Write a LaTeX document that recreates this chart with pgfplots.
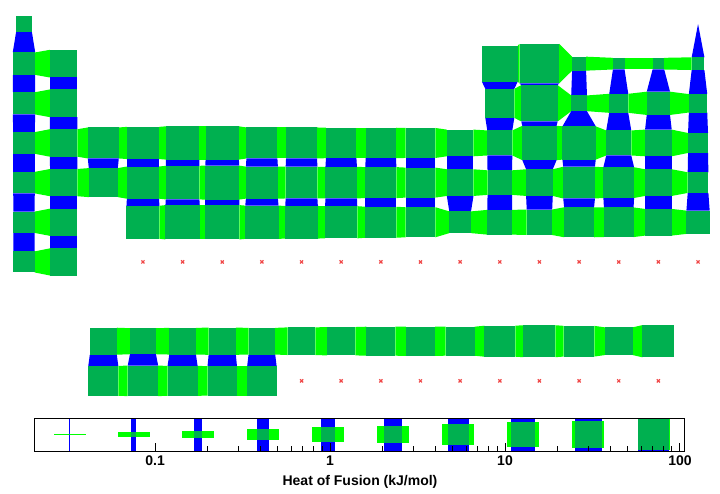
\documentclass[border=0pt]{standalone}
\usepackage{fontspec}
\setmainfont{Liberation Sans}
\usepackage{pgfplots}
\pgfplotsset{compat=1.18}

\definecolor{cellgreen}{RGB}{0,176,80}
\definecolor{rowlime}{RGB}{0,255,0}
\definecolor{colblue}{RGB}{0,0,255}
\definecolor{nodata}{RGB}{240,72,72}

% heat of fusion (kJ/mol): \hf{column}{row}{value}
% square side in cell units grows with log10 of the value
\newcommand\hf[3]{%
  \pgfmathsetmacro\tmp{max(0,0.2787*(log10(#3)+1.55))}%
  \expandafter\xdef\csname sz@#1@#2\endcsname{\tmp}}

% row 1
\hf{1}{1}{0.75} \hf{18}{1}{0.0282}
% row 2
\hf{1}{2}{3.05} \hf{2}{2}{9} \hf{13}{2}{50} \hf{14}{2}{108}
\hf{15}{2}{0.52} \hf{16}{2}{0.32} \hf{17}{2}{0.32} \hf{18}{2}{0.4}
% row 3
\hf{1}{3}{2.9} \hf{2}{3}{9} \hf{13}{3}{11.9} \hf{14}{3}{55}
\hf{15}{3}{0.75} \hf{16}{3}{1.48} \hf{17}{3}{3.6} \hf{18}{3}{1.3}
% row 4
\hf{1}{4}{2.6} \hf{2}{4}{8.7} \hf{3}{4}{18} \hf{4}{4}{23} \hf{5}{4}{29} \hf{6}{4}{29}
\hf{7}{4}{18} \hf{8}{4}{18} \hf{9}{4}{16} \hf{10}{4}{16} \hf{11}{4}{14.6} \hf{12}{4}{7.3}
\hf{13}{4}{5.2} \hf{14}{4}{36} \hf{15}{4}{29} \hf{16}{4}{5.2} \hf{17}{4}{7.3} \hf{18}{4}{1.8}
% row 5
\hf{1}{5}{2.5} \hf{2}{5}{8.2} \hf{3}{5}{11.9} \hf{4}{5}{23} \hf{5}{5}{31} \hf{6}{5}{33.6}
\hf{7}{5}{22} \hf{8}{5}{21} \hf{9}{5}{20} \hf{10}{5}{18} \hf{11}{5}{14.6} \hf{12}{5}{7.3}
\hf{13}{5}{4.7} \hf{14}{5}{7.3} \hf{15}{5}{21} \hf{16}{5}{17} \hf{17}{5}{7.3} \hf{18}{5}{2.1}
% row 6
\hf{1}{6}{2.4} \hf{2}{6}{8.2} \hf{4}{6}{27} \hf{5}{6}{36} \hf{6}{6}{36}
\hf{7}{6}{29} \hf{8}{6}{25} \hf{9}{6}{23} \hf{10}{6}{18} \hf{11}{6}{14.6} \hf{12}{6}{2.6}
\hf{13}{6}{4.9} \hf{14}{6}{5.7} \hf{15}{6}{14.6} \hf{16}{6}{13.6} \hf{17}{6}{7.3} \hf{18}{6}{3.6}
% row 7
\hf{1}{7}{2.25} \hf{2}{7}{8.2}
% lanthanides
\hf{3}{9}{7.8} \hf{4}{9}{6.4} \hf{5}{9}{7.3} \hf{6}{9}{8.2} \hf{7}{9}{7.3} \hf{8}{9}{9}
\hf{9}{9}{10.4} \hf{10}{9}{11.9} \hf{11}{9}{12.7} \hf{12}{9}{11.9} \hf{13}{9}{18}
\hf{14}{9}{22} \hf{15}{9}{17} \hf{16}{9}{9} \hf{17}{9}{23}
% actinides
\hf{3}{10}{14.6} \hf{4}{10}{16} \hf{5}{10}{14.6} \hf{6}{10}{13} \hf{7}{10}{13}

\pgfplotsset{
  hconn/.style={fill=rowlime, draw=none, forget plot},
  vconn/.style={fill=colblue, draw=none, forget plot},
  cellsq/.style={fill=cellgreen, draw=none, forget plot},
}

\newcommand\drawtable{%
\pgfplotsforeachungrouped \ri in {1,...,10}{%
 \pgfplotsforeachungrouped \ci in {1,...,18}{%
  \ifcsname sz@\ci @\ri\endcsname
   \edef\sa{\csname sz@\ci @\ri\endcsname}%
   % link to the right-hand neighbour
   \pgfmathtruncatemacro\cn{\ci+1}%
   \ifcsname sz@\cn @\ri\endcsname
    \edef\sb{\csname sz@\cn @\ri\endcsname}%
    \pgfmathsetmacro\xa{\ci+\sa/2}\pgfmathsetmacro\xb{\cn-\sb/2}%
    \pgfmathsetmacro\ya{\ri-\sa/2}\pgfmathsetmacro\yb{\ri+\sa/2}%
    \pgfmathsetmacro\yc{\ri+\sb/2}\pgfmathsetmacro\yd{\ri-\sb/2}%
    \edef\cmd{\noexpand\addplot[hconn] coordinates {(\xa,\ya) (\xa,\yb) (\xb,\yc) (\xb,\yd)};}\cmd
   \fi
   % link to the neighbour below
   \pgfmathtruncatemacro\rn{\ri+1}%
   \ifcsname sz@\ci @\rn\endcsname
    \edef\sb{\csname sz@\ci @\rn\endcsname}%
    \pgfmathsetmacro\ya{\ri+\sa/2}\pgfmathsetmacro\yb{\rn-\sb/2}%
    \pgfmathsetmacro\xa{\ci-\sa/2}\pgfmathsetmacro\xb{\ci+\sa/2}%
    \pgfmathsetmacro\xc{\ci+\sb/2}\pgfmathsetmacro\xd{\ci-\sb/2}%
    \edef\cmd{\noexpand\addplot[vconn] coordinates {(\xa,\ya) (\xb,\ya) (\xc,\yb) (\xd,\yb)};}\cmd
   \fi
   % the element itself
   \pgfmathsetmacro\xa{\ci-\sa/2}\pgfmathsetmacro\xb{\ci+\sa/2}%
   \pgfmathsetmacro\ya{\ri-\sa/2}\pgfmathsetmacro\yb{\ri+\sa/2}%
   \edef\cmd{\noexpand\addplot[cellsq] coordinates {(\xa,\ya) (\xb,\ya) (\xb,\yb) (\xa,\yb)};}\cmd
  \fi
 }}}

\newcommand\lfont{\fontsize{7}{8.5}\selectfont\bfseries}

\begin{document}
\begin{tikzpicture}
\begin{axis}[
  at={(0pt,0pt)}, anchor=north west,
  x=19.825pt, y=19.825pt, y dir=reverse,
  xmin=0.3947, xmax=18.55, ymin=0.3947, ymax=10.55,
  hide axis, clip=false,
]
\drawtable
\addplot[only marks, mark=x, mark size=1.1pt, line width=0.6pt, color=nodata, forget plot]
  coordinates {(4,7) (5,7) (6,7) (7,7) (8,7) (9,7) (10,7) (11,7) (12,7) (13,7)
               (14,7) (15,7) (16,7) (17,7) (18,7)
               (8,10) (9,10) (10,10) (11,10) (12,10) (13,10) (14,10) (15,10) (16,10) (17,10)};
\end{axis}

\begin{axis}[
  at={(17.5pt,-209pt)}, anchor=north west,
  scale only axis, width=325pt, height=16.5pt,
  xmode=log, xmin=0.0206, xmax=106.8, ymin=0, ymax=1,
  ytick=\empty, xtick={0.1,1,10,100}, xticklabels={0.1,1,10,100},
  xtick pos=left, tick align=inside,
  major tick length=3.8pt, minor tick length=2.5pt,
  axis on top, axis line style={line width=0.5pt},
  every tick/.style={black, line width=0.5pt},
  xticklabel style={font=\lfont, anchor=center, yshift=-4.8pt},
  xlabel={Heat of Fusion (kJ/mol)},
  xlabel style={font=\lfont, anchor=center, at={(axis description cs:0.5,0)}, yshift=-15.5pt},
]
\pgfplotsforeachungrouped \sv in {0.0317,0.0746,0.176,0.414,0.975,2.30,5.41,12.7,30.0,70.6}{%
  \pgfmathsetmacro\lv{log10(\sv)}%
  \pgfmathsetmacro\sp{max(1.5,8.8*(\lv+1.66))}%
  \pgfmathsetmacro\bl{10^(\lv-\sp/350)}\pgfmathsetmacro\br{10^(\lv+\sp/350)}%
  \pgfmathsetmacro\gl{10^(\lv-16/175)}\pgfmathsetmacro\gr{10^(\lv+16/175)}%
  \pgfmathsetmacro\hb{0.5-\sp/66}\pgfmathsetmacro\hu{0.5+\sp/66}%
  \edef\cmd{\noexpand\addplot[vconn] coordinates {(\bl,0) (\br,0) (\br,1) (\bl,1)};
    \noexpand\addplot[hconn] coordinates {(\gl,\hb) (\gr,\hb) (\gr,\hu) (\gl,\hu)};
    \noexpand\addplot[cellsq] coordinates {(\bl,\hb) (\br,\hb) (\br,\hu) (\bl,\hu)};}\cmd
}
\end{axis}
\pgfresetboundingbox
\path[use as bounding box] (0pt,0pt) rectangle (360pt,-247pt);
\end{tikzpicture}
\end{document}
